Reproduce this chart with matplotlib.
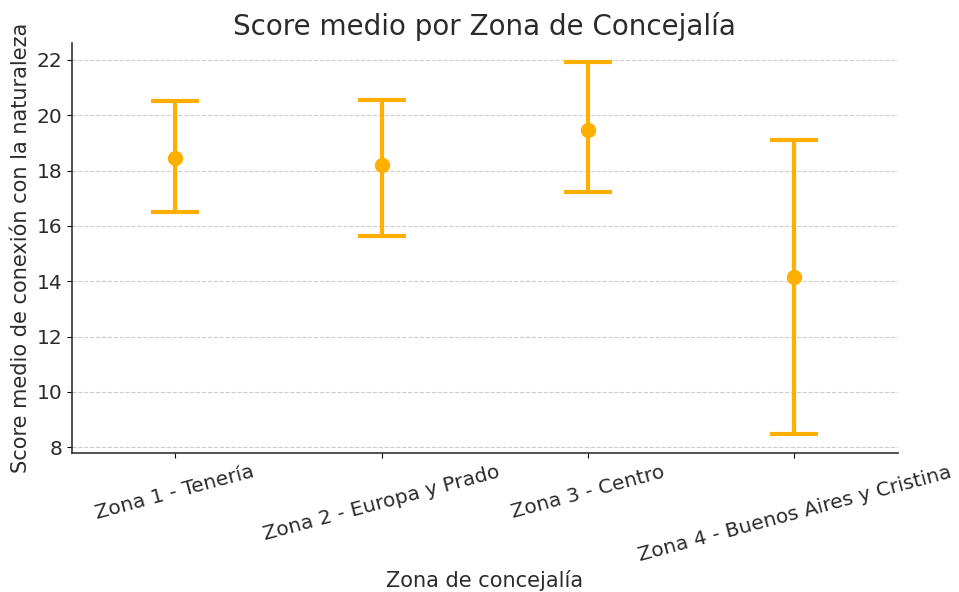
import matplotlib.pyplot as plt
import numpy as np

zonas = ["Zona 1 - Tenería", "Zona 2 - Europa y Prado", "Zona 3 - Centro",
         "Zona 4 - Buenos Aires y Cristina"]
score_medio = [18.47, 18.19, 19.48, 14.15]
ic_inferior = [16.49, 15.63, 17.22, 8.47]
ic_superior = [20.52, 20.55, 21.93, 19.12]

color = "#FFAF00"
texto = "#2b2b2b"

media = np.array(score_medio)
yerr = [media - np.array(ic_inferior), np.array(ic_superior) - media]
x = np.arange(len(zonas))

fig, ax = plt.subplots(figsize=(9.59, 5.92), dpi=100)
fig.subplots_adjust(left=0.075, right=0.936, top=0.927, bottom=0.235)

ax.errorbar(x, media, yerr=yerr, fmt="o", color=color, ecolor=color,
            markersize=10, elinewidth=3, capsize=17, capthick=3)

ax.set_xlim(-0.5, 3.5)
ax.set_xticks(x)
ax.set_xticklabels(zonas, rotation=15, fontsize=14.5, color=texto)
ax.tick_params(axis="y", labelsize=14.5, labelcolor=texto)
ax.set_yticks(range(8, 23, 2))

ax.set_title("Score medio por Zona de Concejalía", fontsize=20, color=texto)
ax.set_xlabel("Zona de concejalía", fontsize=15, color=texto)
ax.set_ylabel("Score medio de conexión con la naturaleza", fontsize=15, color=texto)

ax.grid(axis="y", linestyle="--", color="#cccccc", linewidth=0.8)
ax.set_axisbelow(True)
for side in ["top", "right"]:
    ax.spines[side].set_visible(False)
for side in ["left", "bottom"]:
    ax.spines[side].set_color("#333333")
    ax.spines[side].set_linewidth(1.2)

fig.savefig("out.png")
